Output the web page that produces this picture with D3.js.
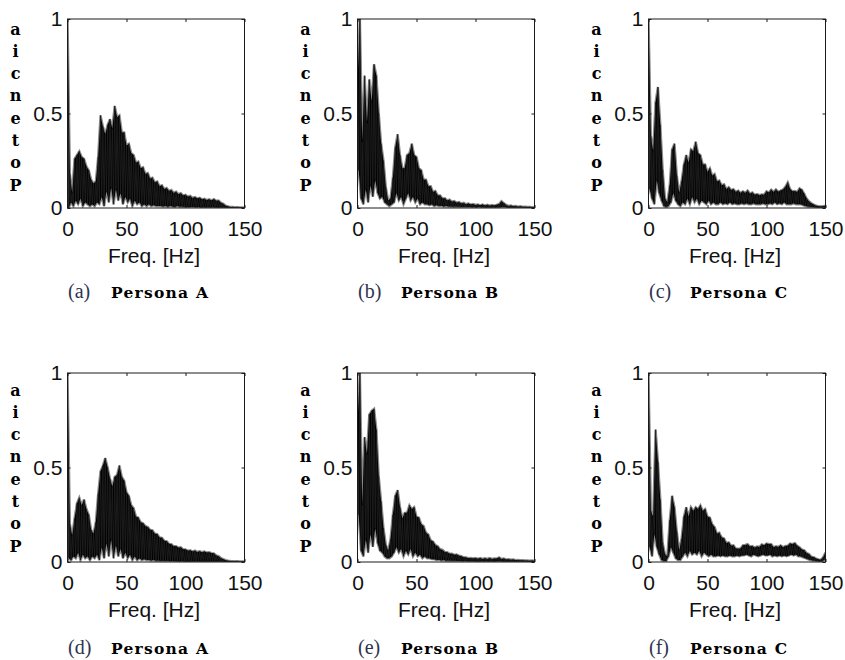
<!DOCTYPE html>
<html><head><meta charset="utf-8">
<script src="https://cdn.jsdelivr.net/npm/d3@7/dist/d3.min.js"></script>
<style>body{margin:0;background:#fff}svg{display:block}</style>
</head><body>
<svg id="chart" width="845" height="660"></svg>
<script>
// ---------- data ----------
const freqs = [0,2,4,6,8,10,12,14,16,18,20,22,24,26,28,30,32,34,36,38,40,42,44,46,48,50,52,54,56,58,60,62,64,66,68,70,72,74,76,78,80,82,84,86,88,90,92,94,96,98,100,102,104,106,108,110,112,114,116,118,120,122,124,126,128,130,132,134,136,138,140,142,144,146,148,150];
const xTicks = [0,50,100,150];
const yTicks = [0,0.5,1];
const yTickLabels = ["0","0.5","1"];
const xLabel = "Freq. [Hz]";
const yLabel = "Potencia";
const captions = ["(a)","(b)","(c)","(d)","(e)","(f)"];
const persons = ["Persona A","Persona B","Persona C","Persona A","Persona B","Persona C"];

// peak (upper) values at freqs, trough (lower) values at freqs+1
const upA = [1.0,0.18,0.08,0.26,0.28,0.30,0.27,0.26,0.22,0.20,
 0.15,0.13,0.14,0.27,0.49,0.43,0.39,0.44,0.47,0.42,
 0.54,0.48,0.49,0.40,0.40,0.33,0.34,0.29,0.28,0.24,
 0.245,0.21,0.215,0.18,0.185,0.155,0.16,0.135,0.14,0.115,
 0.12,0.10,0.106,0.09,0.095,0.08,0.086,0.073,0.078,0.066,
 0.07,0.06,0.064,0.053,0.058,0.05,0.054,0.046,0.049,0.042,
 0.046,0.04,0.047,0.038,0.04,0.028,0.022,0.012,0.009,0.005,
 0.005,0.004,0.004,0.003,0.003,0.002];
const loA = [0.0,0.03,0.01,0.04,0.02,0.05,0.01,0.03,0.02,0.01,
 0.02,0.01,0.03,0.02,0.06,0.01,0.09,0.03,0.11,0.02,
 0.10,0.04,0.08,0.02,0.06,0.03,0.05,0.01,0.04,0.02,
 0.03,0.01,0.02,0.01,0.02,0.01,0.015,0.01,0.01,0.01,
 0.008,0.01,0.006,0.01,0.008,0.005,0.01,0.006,0.008,0.005,
 0.006,0.004,0.006,0.005,0.004,0.005,0.003,0.004,0.003,0.004,
 0.003,0.004,0.003,0.002,0.003,0.002,0.002,0.001,0.002,0.001,
 0.001,0.001,0.001,0.001,0.001,0.001];

const upB = [0.66,1.0,0.35,0.70,0.45,0.68,0.56,0.76,0.70,0.50,
 0.34,0.25,0.11,0.04,0.05,0.16,0.32,0.39,0.28,0.21,
 0.21,0.28,0.29,0.34,0.28,0.27,0.21,0.20,0.15,0.15,
 0.115,0.115,0.085,0.09,0.066,0.066,0.05,0.052,0.04,0.044,
 0.033,0.037,0.028,0.032,0.024,0.027,0.02,0.024,0.018,0.021,
 0.016,0.019,0.014,0.018,0.013,0.017,0.012,0.016,0.013,0.017,
 0.021,0.036,0.026,0.016,0.011,0.013,0.009,0.011,0.007,0.009,
 0.006,0.007,0.005,0.006,0.004,0.005];
const loB = [0.2,0.05,0.02,0.1,0.03,0.12,0.06,0.15,0.08,0.05,
 0.06,0.03,0.02,0.01,0.02,0.03,0.08,0.04,0.06,0.02,
 0.05,0.08,0.04,0.06,0.03,0.05,0.02,0.03,0.02,0.02,
 0.015,0.02,0.01,0.015,0.01,0.012,0.008,0.01,0.008,0.008,
 0.007,0.008,0.006,0.007,0.005,0.006,0.005,0.006,0.004,0.005,
 0.004,0.005,0.004,0.004,0.003,0.004,0.003,0.004,0.003,0.004,
 0.004,0.006,0.005,0.003,0.003,0.002,0.002,0.002,0.002,0.002,
 0.002,0.001,0.001,0.001,0.001,0.001];

const upC = [1.0,0.38,0.30,0.56,0.64,0.44,0.20,0.05,0.03,0.12,
 0.31,0.34,0.17,0.08,0.14,0.23,0.28,0.24,0.31,0.30,
 0.35,0.29,0.28,0.23,0.23,0.19,0.21,0.17,0.18,0.14,
 0.145,0.12,0.125,0.10,0.11,0.095,0.10,0.085,0.092,0.08,
 0.088,0.08,0.092,0.076,0.082,0.07,0.074,0.068,0.072,0.07,
 0.088,0.082,0.097,0.085,0.098,0.086,0.092,0.098,0.112,0.135,
 0.10,0.088,0.09,0.085,0.104,0.096,0.075,0.05,0.035,0.025,
 0.018,0.012,0.01,0.008,0.01,0.012];
const loC = [0.1,0.05,0.02,0.15,0.08,0.04,0.01,0.005,0.01,0.03,
 0.08,0.04,0.02,0.01,0.03,0.02,0.05,0.02,0.06,0.03,
 0.05,0.02,0.04,0.03,0.02,0.04,0.02,0.03,0.02,0.02,
 0.03,0.02,0.025,0.02,0.03,0.02,0.025,0.02,0.02,0.025,
 0.02,0.025,0.02,0.02,0.025,0.02,0.02,0.02,0.025,0.02,
 0.02,0.025,0.02,0.03,0.02,0.025,0.02,0.03,0.02,0.02,
 0.02,0.025,0.02,0.02,0.02,0.015,0.01,0.008,0.006,0.005,
 0.004,0.003,0.003,0.003,0.003,0.003];

const upD = [1.0,0.20,0.14,0.23,0.31,0.34,0.30,0.33,0.28,0.25,
 0.17,0.15,0.21,0.36,0.48,0.51,0.55,0.50,0.44,0.40,
 0.45,0.46,0.51,0.45,0.43,0.37,0.35,0.30,0.285,0.24,
 0.235,0.21,0.205,0.19,0.185,0.17,0.168,0.15,0.148,0.13,
 0.128,0.112,0.11,0.096,0.094,0.083,0.084,0.076,0.078,0.067,
 0.067,0.059,0.062,0.055,0.06,0.053,0.057,0.052,0.056,0.05,
 0.052,0.047,0.046,0.035,0.031,0.021,0.015,0.01,0.007,0.005,
 0.004,0.004,0.004,0.003,0.003,0.003];
const loD = [0.02,0.01,0.03,0.02,0.05,0.01,0.04,0.02,0.03,0.01,
 0.03,0.02,0.04,0.01,0.08,0.02,0.10,0.03,0.12,0.02,
 0.09,0.03,0.07,0.02,0.05,0.02,0.04,0.01,0.03,0.01,
 0.02,0.01,0.015,0.01,0.01,0.008,0.01,0.006,0.008,0.005,
 0.006,0.005,0.006,0.004,0.005,0.004,0.004,0.003,0.004,0.003,
 0.003,0.003,0.003,0.003,0.003,0.003,0.003,0.003,0.003,0.003,
 0.003,0.003,0.002,0.002,0.002,0.002,0.001,0.001,0.001,0.001,
 0.001,0.001,0.001,0.001,0.001,0.001];

const upE = [0.74,1.0,0.30,0.66,0.57,0.78,0.80,0.81,0.70,0.45,
 0.32,0.18,0.09,0.06,0.12,0.25,0.35,0.38,0.29,0.23,
 0.26,0.26,0.30,0.28,0.29,0.24,0.235,0.20,0.19,0.155,
 0.145,0.115,0.108,0.09,0.083,0.068,0.064,0.053,0.052,0.044,
 0.044,0.038,0.04,0.033,0.031,0.025,0.024,0.02,0.021,0.019,
 0.021,0.017,0.021,0.016,0.02,0.016,0.021,0.016,0.019,0.018,
 0.024,0.016,0.018,0.013,0.015,0.012,0.013,0.01,0.011,0.009,
 0.009,0.008,0.008,0.007,0.008,0.006];
const loE = [0.25,0.06,0.03,0.12,0.05,0.15,0.08,0.18,0.10,0.06,
 0.05,0.03,0.02,0.02,0.03,0.05,0.08,0.05,0.07,0.03,
 0.06,0.04,0.07,0.03,0.05,0.03,0.04,0.02,0.03,0.02,
 0.02,0.015,0.015,0.01,0.012,0.008,0.01,0.007,0.008,0.006,
 0.006,0.006,0.005,0.005,0.004,0.005,0.004,0.004,0.004,0.004,
 0.004,0.003,0.004,0.003,0.004,0.003,0.004,0.003,0.003,0.004,
 0.004,0.003,0.003,0.003,0.002,0.002,0.002,0.002,0.002,0.002,
 0.002,0.002,0.001,0.001,0.001,0.001];

const upF = [1.0,0.27,0.24,0.70,0.53,0.33,0.10,0.04,0.03,0.22,
 0.35,0.29,0.16,0.06,0.12,0.24,0.29,0.24,0.29,0.27,
 0.29,0.28,0.30,0.27,0.28,0.24,0.235,0.20,0.185,0.15,
 0.155,0.13,0.125,0.10,0.104,0.086,0.088,0.072,0.07,0.072,
 0.088,0.09,0.094,0.082,0.084,0.076,0.082,0.08,0.093,0.088,
 0.098,0.095,0.094,0.078,0.083,0.08,0.088,0.078,0.085,0.086,
 0.098,0.095,0.10,0.086,0.078,0.066,0.062,0.047,0.042,0.028,
 0.026,0.018,0.014,0.012,0.025,0.05];
const loF = [0.08,0.03,0.15,0.08,0.04,0.01,0.005,0.005,0.03,0.08,
 0.05,0.02,0.01,0.01,0.03,0.05,0.03,0.06,0.04,0.05,
 0.04,0.06,0.03,0.05,0.04,0.03,0.04,0.03,0.03,0.035,
 0.03,0.035,0.03,0.03,0.035,0.03,0.03,0.035,0.03,0.035,
 0.035,0.04,0.035,0.03,0.04,0.035,0.03,0.035,0.04,0.035,
 0.035,0.04,0.03,0.035,0.03,0.035,0.03,0.035,0.03,0.035,
 0.04,0.035,0.04,0.03,0.03,0.025,0.02,0.015,0.01,0.008,
 0.006,0.004,0.003,0.004,0.01,0.03];

const uppers = [upA,upB,upC,upD,upE,upF];
const lowers = [loA,loB,loC,loD,loE,loF];

// ---------- layout ----------
const W = 177, H = 189;
const colX = [67.5, 357.5, 648.5];
const rowY = [19, 373];
const letterY0 = [29, 390];
const capY = [298, 654];
const capX = [68, 358, 649];
const boldX = [111, 401, 690];
const boldW = 97;

const svg = d3.select("#chart");
const x = d3.scaleLinear().domain([0,150]).range([0,W]);
const y = d3.scaleLinear().domain([0,1]).range([H,0]);
const line = d3.line().x(d => x(d[0])).y(d => y(d[1]));
const sans = "'Liberation Sans', Arial, Helvetica, sans-serif";
const serif = "'DejaVu Serif', 'Liberation Serif', serif";

for (let p = 0; p < 6; p++) {
  const r = Math.floor(p / 3), c = p % 3;
  const g = svg.append("g").attr("transform", `translate(${colX[c]},${rowY[r]})`);
  const clipId = "clip" + p;
  g.append("clipPath").attr("id", clipId).append("rect").attr("width", W).attr("height", H);

  // closed band: peaks along the top, troughs back along the bottom
  const top = freqs.map((f, i) => [f, uppers[p][i]]);
  const bottom = freqs.map((f, i) => [Math.min(f + 1, 150), lowers[p][i]]).reverse();
  const band = top.concat(bottom);
  const zig = [];
  freqs.forEach((f, i) => { zig.push([f, uppers[p][i]]); zig.push([f + 1, lowers[p][i]]); });

  const dg = g.append("g").attr("clip-path", `url(#${clipId})`);
  dg.append("path").datum(band).attr("d", d => line(d) + "Z")
    .attr("fill", "none").attr("stroke", "#8a8a8a").attr("stroke-width", 2.4)
    .attr("stroke-linejoin", "miter").attr("stroke-miterlimit", 3);
  dg.append("path").datum(band).attr("d", d => line(d) + "Z")
    .attr("fill", "#000").attr("stroke", "none");
  dg.append("path").datum(zig).attr("d", line)
    .attr("fill", "none").attr("stroke", "#222").attr("stroke-width", 0.8)
    .attr("stroke-linejoin", "bevel");

  g.append("rect").attr("width", W).attr("height", H)
    .attr("fill", "none").attr("stroke", "#1a1a1a").attr("stroke-width", 1);

  const ax = g.append("g").attr("transform", `translate(0,${H})`)
    .call(d3.axisBottom(x).tickValues(xTicks).tickSize(-3).tickPadding(13).tickFormat(d3.format("d")));
  const at = g.append("g").call(d3.axisTop(x).tickValues(xTicks).tickSize(-3).tickFormat(""));
  const al = g.append("g")
    .call(d3.axisLeft(y).tickValues(yTicks).tickSize(-3).tickPadding(5).tickFormat((d, i) => yTickLabels[i]));
  const ar = g.append("g").attr("transform", `translate(${W},0)`)
    .call(d3.axisRight(y).tickValues(yTicks).tickSize(-3).tickFormat(""));
  [ax, at, al, ar].forEach(a => {
    a.select(".domain").remove();
    a.selectAll("line").attr("stroke", "#1a1a1a");
    a.selectAll("text").attr("font-family", sans).attr("font-size", "21px").attr("fill", "#111");
  });

  g.append("text").attr("x", W / 2 - 2).attr("y", H + 55).attr("text-anchor", "middle")
    .attr("font-family", sans).attr("font-size", "21px").attr("fill", "#111").text(xLabel);

  const letters = yLabel.split("").reverse();
  letters.forEach((ch, k) => {
    svg.append("text").attr("x", colX[c] - 52).attr("y", letterY0[r] + k * 22.3)
      .attr("text-anchor", "middle").attr("dominant-baseline", "central")
      .attr("font-family", serif).attr("font-weight", "bold").attr("font-size", "16px")
      .attr("fill", "#000").text(ch);
  });

  svg.append("text").attr("x", capX[c]).attr("y", capY[r])
    .attr("font-family", "'Liberation Serif', 'DejaVu Serif', serif").attr("font-size", "20px")
    .attr("fill", "#2e3350").text(captions[p]);
  svg.append("text").attr("x", boldX[c]).attr("y", capY[r])
    .attr("font-family", serif).attr("font-weight", "bold").attr("font-size", "15.5px")
    .attr("textLength", boldW).attr("lengthAdjust", "spacing")
    .attr("fill", "#000").text(persons[p]);
}
</script>
</body></html>
